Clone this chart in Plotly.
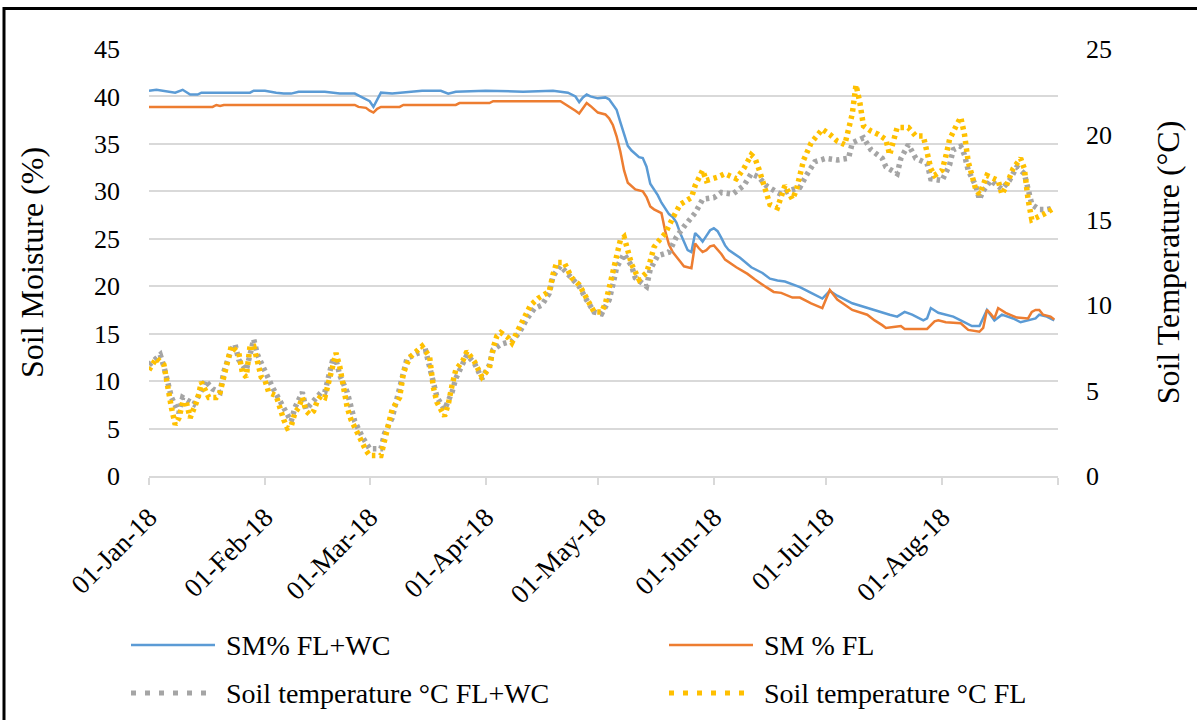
import pandas as pd
import plotly.graph_objects as go

# ---------------- data (day offsets from 01-Jan-2018) ----------------
sm_flwc_day = [0, 2, 7, 9, 11, 13, 14, 27, 28, 31, 34, 36, 38, 40, 47, 51, 55, 57, 59, 60, 61, 62, 65, 68,
               73, 78, 80, 82, 90, 100, 108, 112, 114, 115, 116, 117, 118, 120, 122, 123, 124, 125, 126,
               127, 128, 129, 130, 131, 132, 133, 134, 135, 136, 137, 138, 139, 140, 141, 142, 143, 144,
               145, 146, 147, 148, 149, 150, 151, 152, 153, 154, 155, 156, 158, 161, 164, 166, 168, 170,
               172, 174, 177, 180, 182, 184, 188, 192, 195, 198, 200, 202, 204, 207, 208, 209, 211, 215,
               217, 220, 222, 224, 226, 228, 231, 233, 237, 238, 240, 242]
sm_flwc = [40.6, 40.7, 40.4, 40.7, 40.2, 40.2, 40.4, 40.4, 40.6, 40.6, 40.4, 40.3, 40.3, 40.5, 40.5, 40.3,
           40.3, 39.9, 39.5, 38.9, 39.6, 40.4, 40.3, 40.4, 40.6, 40.6, 40.3, 40.5, 40.6, 40.5, 40.6, 40.4,
           40.0, 39.4, 39.9, 40.2, 40.0, 39.8, 39.9, 39.7, 39.2, 38.6, 37.3, 36.0, 34.8, 34.3, 34.0, 33.6,
           33.5, 32.6, 30.8, 30.2, 29.6, 28.8, 28.2, 27.6, 27.3, 26.7, 25.6, 24.6, 23.8, 23.6, 25.6, 25.2,
           24.7, 25.3, 25.9, 26.1, 25.8, 25.1, 24.3, 23.8, 23.5, 23.0, 22.0, 21.4, 20.8, 20.6, 20.5, 20.2,
           19.9, 19.3, 18.7, 19.5, 19.0, 18.2, 17.7, 17.3, 17.0, 16.8, 17.3, 17.0, 16.4, 16.6, 17.7, 17.2,
           16.8, 16.4, 15.8, 15.8, 17.5, 16.4, 17.0, 16.6, 16.2, 16.6, 17.0, 16.8, 16.4]

sm_fl_day = [0, 17, 18, 19, 20, 55, 56, 58, 59, 60, 61, 62, 67, 68, 82, 83, 91, 92, 110, 112, 113, 114, 115,
             116, 117, 118, 119, 120, 122, 123, 124, 125, 126, 127, 128, 129, 130, 132, 133, 134, 135, 137,
             138, 139, 140, 142, 143, 145, 146, 147, 148, 149, 150, 151, 152, 153, 154, 157, 160, 162, 165,
             167, 169, 172, 174, 177, 180, 182, 184, 188, 192, 194, 196, 197, 199, 201, 202, 208, 210, 211,
             213, 217, 219, 222, 223, 224, 225, 226, 227, 229, 232, 235, 236, 237, 238, 239, 241, 242]
sm_fl = [38.9, 38.9, 39.1, 39.0, 39.1, 39.1, 38.9, 38.8, 38.5, 38.3, 38.7, 38.9, 38.9, 39.1, 39.1, 39.3,
         39.3, 39.5, 39.5, 39.0, 38.8, 38.5, 38.2, 38.8, 39.3, 39.0, 38.6, 38.3, 38.1, 37.7, 37.0, 35.8,
         34.2, 32.2, 30.9, 30.5, 30.2, 30.0, 29.4, 28.4, 28.1, 27.7, 25.8, 24.4, 23.6, 22.6, 22.1, 21.9,
         24.5, 24.0, 23.6, 23.8, 24.2, 24.3, 23.9, 23.4, 22.8, 22.0, 21.3, 20.7, 19.9, 19.4, 19.3, 18.8,
         18.8, 18.2, 17.7, 19.6, 18.6, 17.5, 17.0, 16.4, 15.9, 15.6, 15.7, 15.8, 15.5, 15.5, 16.3, 16.4,
         16.2, 16.1, 15.4, 15.2, 15.6, 17.5, 17.1, 16.6, 17.7, 17.2, 16.7, 16.6, 17.3, 17.5, 17.5, 17.0,
         16.8, 16.5]

t_flwc_day = [0, 3, 4, 5, 6, 8, 9, 12, 14, 15, 17, 19, 20, 22, 23, 24, 26, 27, 28, 29, 30, 33, 35, 37, 38,
              39, 41, 42, 45, 46, 47, 48, 49, 50, 51, 53, 54, 55, 57, 59, 62, 63, 65, 66, 67, 68, 69, 72,
              74, 75, 76, 77, 79, 81, 82, 84, 85, 87, 89, 91, 92, 94, 97, 99, 101, 103, 105, 107, 108, 110,
              112, 115, 117, 119, 121, 123, 124, 125, 127, 129, 130, 133, 134, 136, 139, 141, 143, 146, 148,
              151, 153, 156, 159, 161, 163, 165, 168, 169, 171, 174, 176, 178, 181, 184, 187, 188, 191, 193,
              196, 197, 200, 201, 203, 205, 208, 209, 212, 214, 215, 217, 218, 219, 221, 222, 223, 225, 228,
              230, 232, 234, 235, 236, 238, 240, 242]
t_flwc = [6.5, 7.1, 6.4, 5.4, 4.6, 3.7, 4.6, 4.2, 5.0, 5.6, 5.1, 4.9, 6.1, 7.4, 7.7, 6.8, 6.2, 7.1, 8.0,
          7.1, 6.6, 5.2, 4.4, 3.7, 3.2, 4.0, 4.9, 3.9, 4.6, 4.9, 4.9, 5.8, 6.7, 6.8, 5.9, 4.9, 4.0, 3.2,
          2.3, 1.6, 1.6, 2.5, 3.4, 4.2, 5.0, 6.0, 6.9, 7.2, 7.3, 6.4, 5.4, 4.6, 3.9, 4.9, 5.7, 6.6, 7.1,
          6.6, 5.7, 6.5, 7.4, 7.7, 7.9, 8.4, 9.2, 9.8, 10.0, 10.7, 11.7, 12.3, 11.8, 11.1, 10.3, 9.6, 9.5,
          10.3, 11.2, 12.2, 13.0, 12.3, 11.6, 11.1, 12.1, 12.9, 13.1, 14.0, 14.6, 15.4, 16.2, 16.3, 16.6,
          16.5, 17.0, 17.7, 17.5, 17.0, 16.6, 16.5, 16.7, 16.9, 17.7, 18.4, 18.6, 18.5, 18.6, 19.5, 19.8,
          19.1, 18.6, 18.1, 17.7, 18.6, 19.4, 18.6, 18.3, 17.4, 17.3, 18.2, 19.1, 19.3, 18.8, 17.9, 17.0,
          16.2, 16.7, 17.3, 16.8, 17.3, 18.1, 17.7, 16.8, 15.9, 15.6, 15.6, 15.7]

t_fl_day = [0, 2, 4, 5, 6, 7, 8, 9, 10, 11, 12, 13, 14, 16, 18, 19, 20, 21, 22, 24, 25, 26, 27, 28, 29,
            30, 31, 32, 34, 35, 36, 37, 38, 39, 40, 41, 42, 43, 44, 45, 46, 47, 48, 49, 50, 51, 52, 53,
            54, 55, 56, 57, 58, 59, 62, 63, 64, 65, 67, 68, 69, 70, 73, 75, 76, 77, 79, 80, 81, 82, 84,
            85, 87, 89, 91, 92, 93, 94, 96, 97, 99, 101, 102, 104, 107, 108, 109, 111, 112, 113, 115, 117,
            119, 121, 122, 123, 124, 125, 126, 127, 128, 129, 131, 133, 134, 135, 136, 138, 140, 142, 145,
            146, 148, 149, 152, 154, 157, 159, 161, 162, 163, 164, 165, 166, 168, 169, 170, 171, 172, 173,
            174, 175, 177, 180, 182, 184, 186, 187, 188, 189, 190, 191, 193, 195, 197, 198, 199, 200, 203,
            205, 207, 208, 209, 210, 212, 213, 214, 216, 217, 218, 219, 220, 221, 222, 223, 224, 227, 228,
            229, 231, 233, 234, 235, 236, 239, 241, 242]
t_fl = [6.2, 6.9, 6.5, 5.0, 4.0, 3.0, 3.4, 4.3, 4.3, 3.4, 3.9, 4.5, 5.5, 4.6, 4.6, 4.9, 5.8, 6.8, 7.6,
        7.2, 6.0, 5.8, 7.6, 7.6, 6.6, 5.8, 5.6, 4.9, 4.7, 3.9, 3.3, 2.8, 2.9, 3.7, 4.0, 4.6, 3.8, 3.6,
        3.8, 4.4, 4.7, 4.6, 5.4, 6.5, 7.2, 6.4, 5.0, 4.0, 3.3, 2.8, 2.3, 1.9, 1.5, 1.2, 1.2, 2.1, 3.2,
        3.9, 4.6, 6.0, 6.6, 7.0, 7.6, 7.0, 5.2, 4.3, 3.5, 4.2, 5.3, 6.2, 6.8, 7.3, 6.7, 5.8, 6.3, 7.5,
        8.2, 8.4, 8.1, 7.8, 8.7, 9.5, 10.0, 10.4, 10.8, 11.8, 12.5, 12.5, 12.0, 11.6, 11.2, 10.4, 9.6,
        9.6, 10.1, 11.0, 12.0, 13.0, 13.8, 14.0, 13.2, 12.4, 11.5, 11.9, 12.6, 13.4, 13.7, 14.2, 15.1,
        15.9, 16.3, 17.0, 17.9, 17.3, 17.5, 17.7, 17.4, 18.0, 18.8, 18.6, 18.0, 17.2, 16.5, 15.9, 15.7,
        16.5, 17.0, 16.6, 16.2, 16.7, 17.5, 18.5, 19.5, 20.3, 20.0, 19.6, 19.4, 20.3, 21.2, 22.9, 21.9,
        20.5, 20.2, 20.0, 19.7, 18.8, 19.6, 20.4, 20.4, 19.9, 19.9, 18.9, 18.0, 17.6, 17.9, 18.7, 19.7,
        20.6, 21.0, 20.0, 18.4, 17.6, 16.8, 16.5, 17.0, 17.6, 17.3, 16.5, 16.9, 18.0, 18.6, 18.0, 16.2,
        15.0, 15.3, 15.6, 15.7]

month_ticks = ["2018-01-01", "2018-02-01", "2018-03-01", "2018-04-01", "2018-05-01",
               "2018-06-01", "2018-07-01", "2018-08-01", "2018-09-01"]
month_labels = ["01-Jan-18", "01-Feb-18", "01-Mar-18", "01-Apr-18", "01-May-18",
                "01-Jun-18", "01-Jul-18", "01-Aug-18", ""]

series_names = ["SM% FL+WC", "SM % FL", "Soil temperature °C FL+WC", "Soil temperature °C FL"]
series_colors = ["#5B9BD5", "#ED7D31", "#A5A5A5", "#FFC000"]

start = pd.Timestamp("2018-01-01")


def to_dates(days):
    return start + pd.to_timedelta(days, unit="D")


FONT = "Liberation Serif"
GRID = "#D9D9D9"
SOLID = dict(width=2.5)
DOTTED = dict(width=5.5, dash="3.5px,4px")
LEG_DOTTED = dict(width=5, dash="5px,9px")
styles = [SOLID, SOLID, DOTTED, DOTTED]
leg_styles = [SOLID, SOLID, LEG_DOTTED, LEG_DOTTED]

xs = [sm_flwc_day, sm_fl_day, t_flwc_day, t_fl_day]
ys = [sm_flwc, sm_fl, t_flwc, t_fl]
axes = ["y", "y", "y2", "y2"]

fig = go.Figure()
for name, color, st, xd, yd, ax in zip(series_names, series_colors, styles, xs, ys, axes):
    fig.add_trace(go.Scatter(x=to_dates(xd), y=yd, mode="lines", name=name,
                             line=dict(color=color, **st), yaxis=ax, showlegend=False))

W, H = 1197, 720
L, R, T, B = 149, 139, 49, 244
pw, ph = W - L - R, H - T - B


def px(xp):
    return (xp - L) / pw


def py(yp):
    return (H - B - yp) / ph


# custom legend (long line samples like the original)
leg_pos = [(131, 645), (669, 645), (131, 693), (669, 693)]
shapes = []
annotations = []
for name, color, st, (lx, ly) in zip(series_names, series_colors, leg_styles, leg_pos):
    shapes.append(dict(type="line", xref="paper", yref="paper", x0=px(lx), x1=px(lx + 84),
                       y0=py(ly), y1=py(ly), line=dict(color=color, **st)))
    annotations.append(dict(text=name, xref="paper", yref="paper", x=px(lx + 93), y=py(ly),
                            xanchor="left", yanchor="middle", showarrow=False,
                            font=dict(family=FONT, size=28, color="black")))

shapes.append(dict(type="rect", xref="paper", yref="paper", x0=px(4), x1=px(1210), y0=py(735),
                   y1=py(8.5), line=dict(color="black", width=3), fillcolor="rgba(0,0,0,0)",
                   layer="above"))

fig.update_layout(
    width=W, height=H,
    margin=dict(l=L, r=R, t=T, b=B),
    paper_bgcolor="white", plot_bgcolor="white",
    font=dict(family=FONT, color="black"),
    showlegend=False,
    xaxis=dict(type="date", range=["2018-01-01", "2018-09-01"], tickmode="array",
               tickvals=month_ticks, ticktext=month_labels, tickangle=-45, automargin=False,
               tickfont=dict(family=FONT, size=27, color="black"), ticklabelstandoff=6,
               showgrid=False, showline=True, linecolor=GRID, linewidth=1.5,
               ticks="outside", ticklen=7, tickcolor=GRID, tickwidth=1.5, zeroline=False),
    yaxis=dict(range=[0, 45], dtick=5, tick0=0, showgrid=True, gridcolor=GRID, gridwidth=1.5,
               zeroline=False, showline=False, ticks="", ticklabelstandoff=28, automargin=False,
               tickfont=dict(family=FONT, size=26, color="black"),
               title=dict(text="Soil Moisture (%)", font=dict(family=FONT, size=32, color="black"),
                          standoff=40)),
    yaxis2=dict(range=[0, 25], dtick=5, tick0=0, overlaying="y", side="right", showgrid=False,
                zeroline=False, showline=False, ticks="", ticklabelstandoff=27, automargin=False,
                tickfont=dict(family=FONT, size=26, color="black"),
                title=dict(text="Soil Temperature (°C)", font=dict(family=FONT, size=32, color="black"),
                           standoff=45)),
    shapes=shapes,
    annotations=annotations,
)

fig.write_html("out.html")
